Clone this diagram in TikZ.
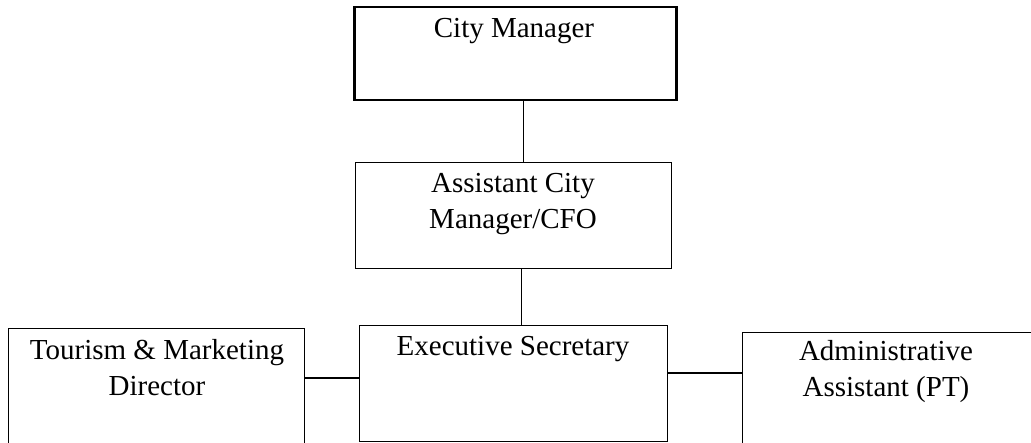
\documentclass[tikz,border=0pt]{standalone}
\usepackage{fontspec}
\setmainfont{Liberation Serif}
\begin{document}
\begin{tikzpicture}[x=1pt,y=-1pt,
  box/.style={draw=black,line width=1pt,inner sep=0pt,anchor=north west,fill=white},
  thickbox/.style={box,line width=2.5pt},
  lbl/.style={inner sep=0pt,anchor=base,align=center,font=\fontsize{29}{36}\selectfont},
  conn/.style={draw=black,line width=1pt},
  hconn/.style={draw=black,line width=1.5pt}]
\useasboundingbox (0,0) rectangle (1031,443);
% boxes
\node[thickbox,minimum width=322pt,minimum height=93pt] (cm) at (353,6) {};
\node[box,minimum width=316pt,minimum height=106pt] (acm) at (355,162) {};
\node[box,minimum width=308pt,minimum height=116pt] (es) at (359,325) {};
\node[box,minimum width=296pt,minimum height=130pt] (tm) at (8,328) {};
\node[box,minimum width=300pt,minimum height=130pt] (aa) at (742,332) {};
% texts
\node[lbl] (cmt) at (514,38) {City Manager};
\node[lbl] (acmt) at (513,229) {Assistant City\\Manager/CFO};
\node[lbl] (est) at (513,356) {Executive Secretary};
\node[lbl] (tmt) at (157,396) {Tourism \& Marketing\\Director};
\node[lbl] (aat) at (886,397) {Administrative\\Assistant (PT)};
% connectors
\coordinate (c1) at (523,0);
\draw[conn] (cm.south -| c1) -- (acm.north -| c1);
\coordinate (c2) at (521,0);
\draw[conn] (acm.south -| c2) -- (es.north -| c2);
\coordinate (c3) at (0,378);
\draw[hconn] (tm.east |- c3) -- (es.west |- c3);
\coordinate (c4) at (0,373);
\draw[hconn] (es.east |- c4) -- (aa.west |- c4);
\end{tikzpicture}
\end{document}
